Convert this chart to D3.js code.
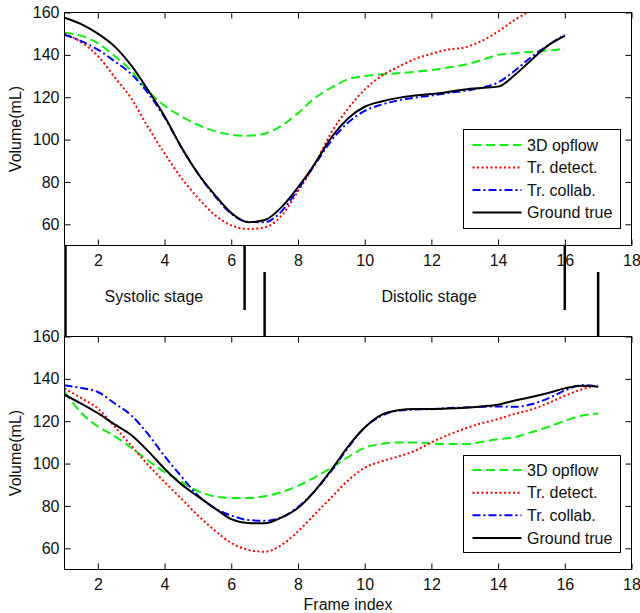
<!DOCTYPE html>
<html lang="en">
<head>
    <meta charset="UTF-8">
    <title>Volume curves</title>
    <style>
        body { margin: 0; background: #fff; font-family: "Liberation Sans", Arial, sans-serif; }
        svg text { font-size: 16px; fill: #111; }
        .axis path { display: none; }
        .axis line { stroke: #000; }
        .frame { fill: none; stroke: #000; stroke-width: 1px; }
        .series { fill: none; stroke-width: 2px; }
    </style>
</head>
<body>
    <svg width="640" height="613"></svg>
    <script src="https://d3js.org/d3.v7.min.js"></script>
    <script>
        // frame indices (half-frame sampling)
        const topFrames = [1,1.5,2,2.5,3,3.5,4,4.5,5,5.5,6,6.5,7,7.5,8,8.5,9,9.5,10,10.5,11,11.5,12,12.5,13,13.5,14,14.5,15,15.5,16];
        const botFrames = [1,1.5,2,2.5,3,3.5,4,4.5,5,5.5,6,6.5,7,7.5,8,8.5,9,9.5,10,10.5,11,11.5,12,12.5,13,13.5,14,14.5,15,15.5,16,16.5,17];

        // top panel
        const topOpflow = [150.5,149,145.5,139.5,132.5,123,116,111,107,104,102.3,101.8,102.8,106.5,112.5,119.5,124.5,128.5,130,130.8,131.3,132,132.8,134,135.3,137.5,140,140.8,141.4,142,143];
        const topDetect = [150,146,139.5,129.5,119.5,106,93.5,82,72.5,64.5,59.5,57.8,58.5,64,75.5,88.3,103.3,114.6,123.6,130,134.3,138,140.5,142.5,143.5,146.5,151,156.5,161,165,168];
        const topCollab = [149.5,146.5,142.5,137,131,122,110.5,96.5,84,73.5,65,61.2,61,66,76.5,88,99.5,108,113.5,116.5,118.5,119.8,120.8,122,123,124.5,127,132.5,139,144.5,149.5];
        const topTruth  = [157.5,154.5,150,144,135,123.5,111,96.5,84,74,65.4,61,62,68,77.5,88.5,101,110,115.5,118,119.7,120.8,121.5,122.5,123.7,124.4,125,130.5,137.6,144.5,149];

        // bottom panel
        const botOpflow = [134,124,117.5,113,107.5,101.5,96,91.5,87,84.5,83.8,83.8,84.6,86.5,89.5,93.5,98,103,107.5,109.3,110,110,109.4,109.2,109.2,110.2,111.5,112.5,114.8,117.3,120.2,122.6,123.7];
        const botDetect = [135.5,131,126,117.5,108.5,99.5,91.3,83.5,75.5,68.5,62.5,59.3,58.4,61.5,68,76,84,92,98,101,103.3,106,110,113.5,116.5,119,121,123.5,125.5,128.5,132,135,137];
        const botCollab = [137,135.7,133.8,128.5,122.8,114,103.5,94,85,79,75.5,73.4,73,74.5,79.5,87,96.5,107.5,117,122.5,125,125.5,125.7,126.2,126.5,126.8,127,126.8,128,130.8,134.5,137,136.5];
        const botTruth  = [132.5,128.3,123.8,118.5,113.5,106,97.6,90.3,84.5,79,73.8,72,71.8,74.5,79,87,97,108,117,123,125.2,125.8,125.8,126,126.4,127,127.8,129.8,131.4,133.3,135.5,136.8,136.3];

        const seriesNames = ["3D opflow", "Tr. detect.", "Tr. collab.", "Ground true"];
        const seriesColors = ["#11ee11", "#ff0000", "#0000ff", "#000000"];
        const seriesDash = ["9,4.5", "2,2.5", "8,3,2,3", null];

        const xTicks = [2,4,6,8,10,12,14,16,18];
        const yTicks = [60,80,100,120,140,160];

        // stage boundaries (frame index)
        const topStageEnds = [6.4, 16];
        const botStageEnds = [7, 17];
        const stageLabels = ["Systolic stage", "Distolic stage"];
        const stageLabelX = [3.68, 11.93];

        const svg = d3.select("svg");
        const x = d3.scaleLinear().domain([1, 18]).range([64.5, 631.5]);

        function drawPanel(name, y, frames, data, legendTop, legendH, rowYs) {
            const g = svg.append("g");
            const [yb, yt] = y.range();

            g.append("clipPath").attr("id", "clip-" + name)
                .append("rect").attr("x", x(1)).attr("y", yt)
                .attr("width", x(18) - x(1)).attr("height", yb - yt);

            const line = d3.line()
                .x((d, i) => x(frames[i]))
                .y(d => y(d))
                .curve(d3.curveMonotoneX);

            data.forEach((s, k) => {
                g.append("path")
                    .attr("class", "series")
                    .attr("clip-path", `url(#clip-${name})`)
                    .attr("d", line(s))
                    .attr("stroke", seriesColors[k])
                    .attr("stroke-dasharray", seriesDash[k]);
            });

            // axes with inward ticks
            g.append("g").attr("class", "axis")
                .attr("transform", `translate(${x(1)},0)`)
                .call(d3.axisLeft(y).tickValues(yTicks).tickSize(-6).tickPadding(5));
            g.append("g").attr("class", "axis")
                .attr("transform", `translate(${x(18)},0)`)
                .call(d3.axisRight(y).tickValues(yTicks).tickSize(-6).tickFormat(""));
            g.append("g").attr("class", "axis")
                .attr("transform", `translate(0,${yb})`)
                .call(d3.axisBottom(x).tickValues(xTicks).tickSize(-6).tickPadding(9));
            g.append("g").attr("class", "axis")
                .attr("transform", `translate(0,${yt})`)
                .call(d3.axisTop(x).tickValues(xTicks).tickSize(-6).tickFormat(""));
            g.selectAll(".axis text").style("font-size", "16px").attr("fill", "#111");

            g.append("rect").attr("class", "frame")
                .attr("x", x(1)).attr("y", yt)
                .attr("width", x(18) - x(1)).attr("height", yb - yt);

            g.append("text")
                .attr("transform", `translate(21,${(yt + yb) / 2}) rotate(-90)`)
                .attr("text-anchor", "middle")
                .text("Volume(mL)");

            // legend
            const lg = g.append("g");
            lg.append("rect").attr("x", 463.5).attr("y", legendTop)
                .attr("width", 157).attr("height", legendH)
                .attr("fill", "#fff").attr("stroke", "#000");
            seriesNames.forEach((n, k) => {
                lg.append("line")
                    .attr("x1", 472.5).attr("x2", 521.5)
                    .attr("y1", rowYs[k]).attr("y2", rowYs[k])
                    .attr("stroke", seriesColors[k]).attr("stroke-width", 2)
                    .attr("stroke-dasharray", seriesDash[k]);
                lg.append("text").attr("x", 527).attr("y", rowYs[k] + 5.5).text(n);
            });
        }

        const yTop = d3.scaleLinear().domain([50, 160]).range([245.5, 12.5]);
        const yBot = d3.scaleLinear().domain([50, 160]).range([569.5, 336.5]);

        drawPanel("top", yTop, topFrames, [topOpflow, topDetect, topCollab, topTruth], 129.5, 99, [145, 167.5, 190, 212.5]);
        drawPanel("bot", yBot, botFrames, [botOpflow, botDetect, botCollab, botTruth], 455.5, 97, [470, 492.7, 515.3, 538]);

        // middle stage strip
        const mid = svg.append("g");
        mid.append("line").attr("x1", x(1) + 1).attr("x2", x(1) + 1)
            .attr("y1", 245.5).attr("y2", 336.5)
            .attr("stroke", "#000").attr("stroke-width", 2.5);
        mid.selectAll(".endTop").data(topStageEnds).enter().append("line")
            .attr("x1", d => x(d)).attr("x2", d => x(d))
            .attr("y1", 245.5).attr("y2", 310)
            .attr("stroke", "#000").attr("stroke-width", 2.5);
        mid.selectAll(".endBot").data(botStageEnds).enter().append("line")
            .attr("x1", d => x(d)).attr("x2", d => x(d))
            .attr("y1", 272).attr("y2", 336.5)
            .attr("stroke", "#000").attr("stroke-width", 2.5);
        mid.selectAll(".stage").data(stageLabels).enter().append("text")
            .attr("x", (d, i) => x(stageLabelX[i]))
            .attr("y", 301.5)
            .attr("text-anchor", "middle")
            .text(d => d);

        svg.append("text")
            .attr("x", (x(1) + x(18)) / 2).attr("y", 610)
            .attr("text-anchor", "middle")
            .text("Frame index");
    </script>
</body>
</html>
